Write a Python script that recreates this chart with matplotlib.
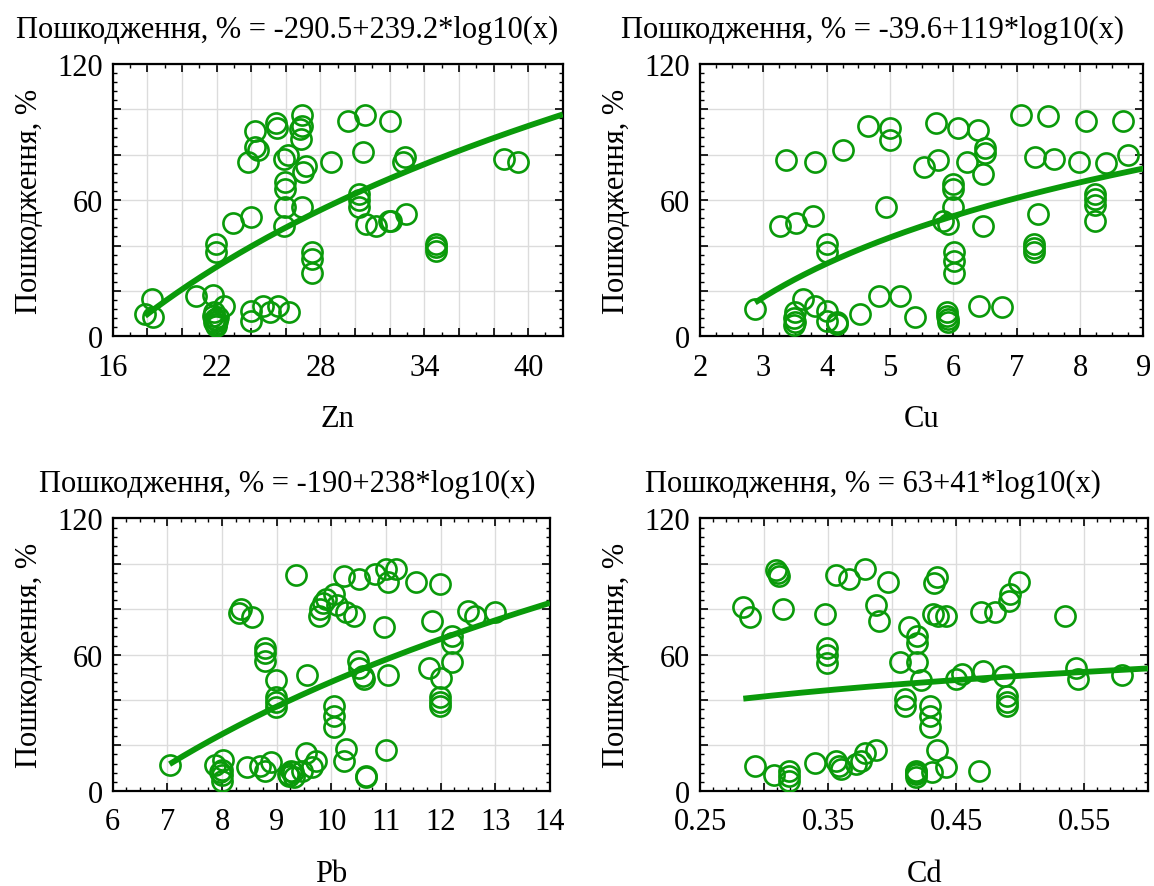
import numpy as np
import matplotlib
matplotlib.use("Agg")
from matplotlib import pyplot as plt
from matplotlib.ticker import MultipleLocator

### DATA
zn_x = [17.87, 18.25, 18.35, 20.8, 21.8, 22.4, 21.8, 21.85, 21.9, 21.95, 22.0, 21.85, 22.1, 21.95,
        21.96, 21.96, 22.96, 23.98, 23.8, 24.2, 24.2, 24.4, 24.0, 24.0, 24.7, 25.1, 25.56, 26.2,
        25.46, 25.5, 25.9, 26.1, 25.94, 25.94, 25.94, 25.88, 26.8, 26.96, 26.96, 26.87, 27.15, 27.0,
        26.96, 27.5, 27.5, 27.5, 28.6, 29.6, 30.6, 30.46, 30.23, 30.23, 30.23, 30.65, 31.2, 31.96,
        32.1, 32.04, 32.96, 32.77, 32.9, 34.7, 34.7, 34.7, 38.6, 39.44]
zn_y = [9.9, 16.5, 8.4, 17.9, 18.2, 13.5, 9.1, 6.2, 7.6, 5.4, 6.8, 10.6, 8.4, 4.7,
        40.7, 37.1, 49.9, 52.8, 76.8, 90.7, 83.4, 81.9, 11.3, 6.9, 13.5, 10.6, 13.5, 10.9,
        94.1, 91.8, 78.2, 79.7, 67.9, 65.0, 56.9, 48.8, 91.5, 97.4, 92.9, 86.8, 75.0, 72.4,
        56.9, 37.1, 34.1, 27.9, 76.8, 95.1, 97.6, 81.2, 62.8, 59.9, 56.9, 49.6, 48.8, 51.0,
        51.0, 95.1, 54.0, 76.8, 79.0, 40.7, 39.3, 37.4, 78.2, 76.8]

cu_x = [2.87, 3.36, 3.81, 4.26, 3.26, 3.51, 3.79, 4.0, 4.0, 3.63, 3.82, 3.5, 3.49, 3.49, 3.5,
        4.0, 4.0, 4.16, 4.17, 4.53, 4.66, 5.0, 5.0, 4.94, 4.83, 5.16, 5.39, 5.53, 5.73, 5.75,
        5.84, 5.91, 6.0, 6.0, 6.0, 6.01, 6.01, 6.01, 5.9, 5.9, 5.91, 5.92, 6.08, 6.21, 6.39,
        6.5, 6.5, 6.46, 6.47, 6.41, 6.76, 7.06, 7.29, 7.34, 7.28, 7.28, 7.28, 7.5, 7.59, 7.99,
        8.09, 8.23, 8.23, 8.23, 8.23, 8.41, 8.68, 8.76]
cu_y = [12.1, 77.9, 76.8, 81.9, 48.8, 49.9, 52.9, 40.7, 37.1, 16.5, 13.2, 10.6, 7.9, 5.0, 6.5,
        11.3, 6.9, 6.2, 5.5, 9.9, 92.9, 91.9, 86.3, 56.9, 17.9, 17.9, 8.4, 74.6, 94.1, 77.9,
        51.0, 49.6, 67.2, 65.0, 56.9, 37.1, 33.4, 27.9, 10.6, 9.1, 7.6, 6.2, 91.9, 76.8, 91.0,
        82.9, 80.9, 71.6, 48.8, 13.2, 12.8, 97.4, 79.0, 54.0, 40.7, 38.8, 37.1, 96.9, 78.2, 76.8,
        95.1, 62.8, 60.6, 57.9, 51.0, 76.5, 95.1, 80.0]

pb_x = [7.04, 7.88, 8.02, 8.0, 8.0, 8.0, 7.97, 8.34, 8.31, 8.55, 8.46, 8.69, 8.78, 8.89,
        8.78, 8.78, 8.78, 8.98, 8.99, 8.99, 8.99, 9.2, 9.23, 9.29, 9.32, 9.26, 9.36, 9.47, 9.53,
        9.56, 9.65, 9.71, 9.77, 9.79, 9.85, 10.04, 10.11, 10.26, 10.42, 9.9, 10.05, 10.05, 10.05,
        10.23, 10.26, 10.23, 10.5, 10.48, 10.51, 10.57, 10.6, 10.64, 10.64, 10.8, 11.0, 11.03,
        11.18, 10.97, 11.04, 11.0, 11.55, 11.99, 11.84, 11.79, 12.0, 11.98, 11.98, 11.98, 12.2,
        12.2, 12.2, 12.5, 12.62, 13.0]
pb_y = [11.3, 11.3, 13.7, 9.3, 6.9, 4.4, 8.2, 80.0, 78.3, 76.4, 10.3, 11.0, 8.8, 12.5,
        63.1, 60.6, 57.3, 48.8, 41.1, 38.9, 36.7, 7.3, 6.6, 8.1, 5.9, 8.8, 95.0, 8.8, 16.6,
        51.1, 10.3, 13.2, 77.1, 80.0, 82.9, 86.9, 81.8, 78.6, 77.1, 84.4, 37.2, 33.0, 27.9,
        94.7, 18.4, 13.2, 93.2, 57.3, 54.3, 50.7, 49.2, 6.6, 5.9, 95.4, 97.7, 91.8,
        97.7, 72.0, 51.1, 18.1, 92.1, 91.0, 74.9, 54.3, 49.5, 41.1, 38.9, 37.4, 68.3,
        64.9, 56.8, 79.3, 77.1, 78.6]

cd_x = [0.2838, 0.289, 0.293, 0.3077, 0.3097, 0.311, 0.3118, 0.315, 0.3196, 0.3196, 0.3196,
        0.3396, 0.3474, 0.3495, 0.3495, 0.3495, 0.356, 0.3565, 0.3585, 0.36, 0.3664, 0.372,
        0.376, 0.379, 0.387, 0.3786, 0.3877, 0.3897, 0.397, 0.4058, 0.4097, 0.4097, 0.4131,
        0.4196, 0.4196, 0.4196, 0.4227, 0.419, 0.419, 0.419, 0.4185, 0.4313, 0.4297, 0.4297,
        0.4297, 0.435, 0.4422, 0.4323, 0.435, 0.4318, 0.4357, 0.4417, 0.4495, 0.4547, 0.4677,
        0.469, 0.4708, 0.4806, 0.4877, 0.4897, 0.4897, 0.4897, 0.4916, 0.4921, 0.4994, 0.5352,
        0.5435, 0.5448, 0.5794]
cd_y = [80.9, 76.4, 11.0, 6.9, 97.3, 95.9, 94.7, 80.0, 8.8, 6.6, 4.4,
        12.2, 77.8, 63.1, 59.9, 56.1, 95.0, 13.2, 11.0, 9.5, 93.2, 11.7,
        13.2, 16.6, 18.1, 97.7, 81.8, 74.9, 92.1, 56.8, 40.4, 37.2, 72.0,
        68.3, 65.3, 56.8, 48.8, 8.8, 7.3, 5.9, 8.1, 8.1, 37.2, 33.0,
        27.9, 18.1, 10.3, 91.6, 94.0, 77.8, 77.1, 77.1, 49.2, 51.4, 8.8,
        78.6, 52.9, 78.9, 50.4, 41.6, 39.2, 37.4, 83.7, 86.6, 92.1, 77.1,
        54.3, 49.2, 51.1]

# regression coefficients from the titles: y = a + b*log10(x)
fits = {"Zn": (-290.5, 239.2, "-290.5+239.2"),
        "Cu": (-39.6, 119, "-39.6+119"),
        "Pb": (-190, 238, "-190+238"),
        "Cd": (63, 41, "63+41")}

y_ticks = [0, 20, 40, 60, 80, 100, 120]
y_labels = ["0", "", "", "60", "", "", "120"]

### PLOT
plt.rcParams["font.family"] = ["Liberation Serif", "DejaVu Serif"]
plt.rcParams["font.size"] = 22

green = "#0a9a0a"

fig = plt.figure(figsize=(11.54, 8.87), dpi=100)

panels = [
    ("Zn", zn_x, zn_y, [0.0977, 0.6197, 0.3900, 0.3070], (16, 42),
     np.arange(16, 42.1, 2), [16, 22, 28, 34, 40], 1, 287, 30),
    ("Cu", cu_x, cu_y, [0.6066, 0.6197, 0.3842, 0.3070], (2, 9),
     np.arange(2, 9.1, 1), [2, 3, 4, 5, 6, 7, 8, 9], 0.25, 873, 30),
    ("Pb", pb_x, pb_y, [0.0977, 0.1074, 0.3789, 0.3070], (6, 14),
     np.arange(6, 14.1, 1), [6, 7, 8, 9, 10, 11, 12, 13, 14], 0.25, 287, 484),
    ("Cd", cd_x, cd_y, [0.6066, 0.1074, 0.3885, 0.3070], (0.25, 0.60),
     np.arange(0.25, 0.601, 0.05), [0.25, 0.35, 0.45, 0.55], 0.01, 873, 484),
]

for name, xs, ys, pos, xlim, xmajor, xlabeled, xminor, tx, ty in panels:
    ax = fig.add_axes(pos)
    a, b, txt = fits[name]

    ax.plot(xs, ys, linestyle="none", marker="o", markersize=14.5,
            markerfacecolor="none", markeredgecolor=green, markeredgewidth=1.9, zorder=3)

    xx = np.linspace(min(xs), xlim[1], 200)
    ax.plot(xx, a + b * np.log10(xx), color=green, linewidth=4.2, zorder=4,
            solid_capstyle="butt")

    ax.set_xlim(*xlim)
    ax.set_ylim(0, 120)

    ax.set_xticks(xmajor)
    labels = []
    for v in xmajor:
        if any(abs(v - l) < 1e-6 for l in xlabeled):
            labels.append(f"{v:.2f}" if name == "Cd" else f"{v:g}")
        else:
            labels.append("")
    ax.set_xticklabels(labels)
    ax.xaxis.set_minor_locator(MultipleLocator(xminor))

    ax.set_yticks(y_ticks)
    ax.set_yticklabels(y_labels)
    ax.yaxis.set_minor_locator(MultipleLocator(4))

    ax.grid(True, which="major", color="#dcdcdc", linewidth=1.0, zorder=0)
    ax.set_axisbelow(True)

    ax.tick_params(which="both", direction="in", top=True, right=True, labelsize=22)
    ax.tick_params(axis="x", pad=12)
    ax.tick_params(axis="y", pad=7)
    ax.tick_params(which="major", length=6, width=1.2)
    ax.tick_params(which="minor", length=3, width=1.0)
    for s in ax.spines.values():
        s.set_linewidth(1.6)

    ax.set_xlabel(name, fontsize=22, labelpad=16)
    ax.set_ylabel("Пошкодження, %", fontsize=22, labelpad=10)

    fig.text(tx / 1154, 1 - ty / 887, f"Пошкодження, % = {txt}*log10(x)",
             ha="center", va="center", fontsize=22)

plt.savefig("out.png", dpi=100)
